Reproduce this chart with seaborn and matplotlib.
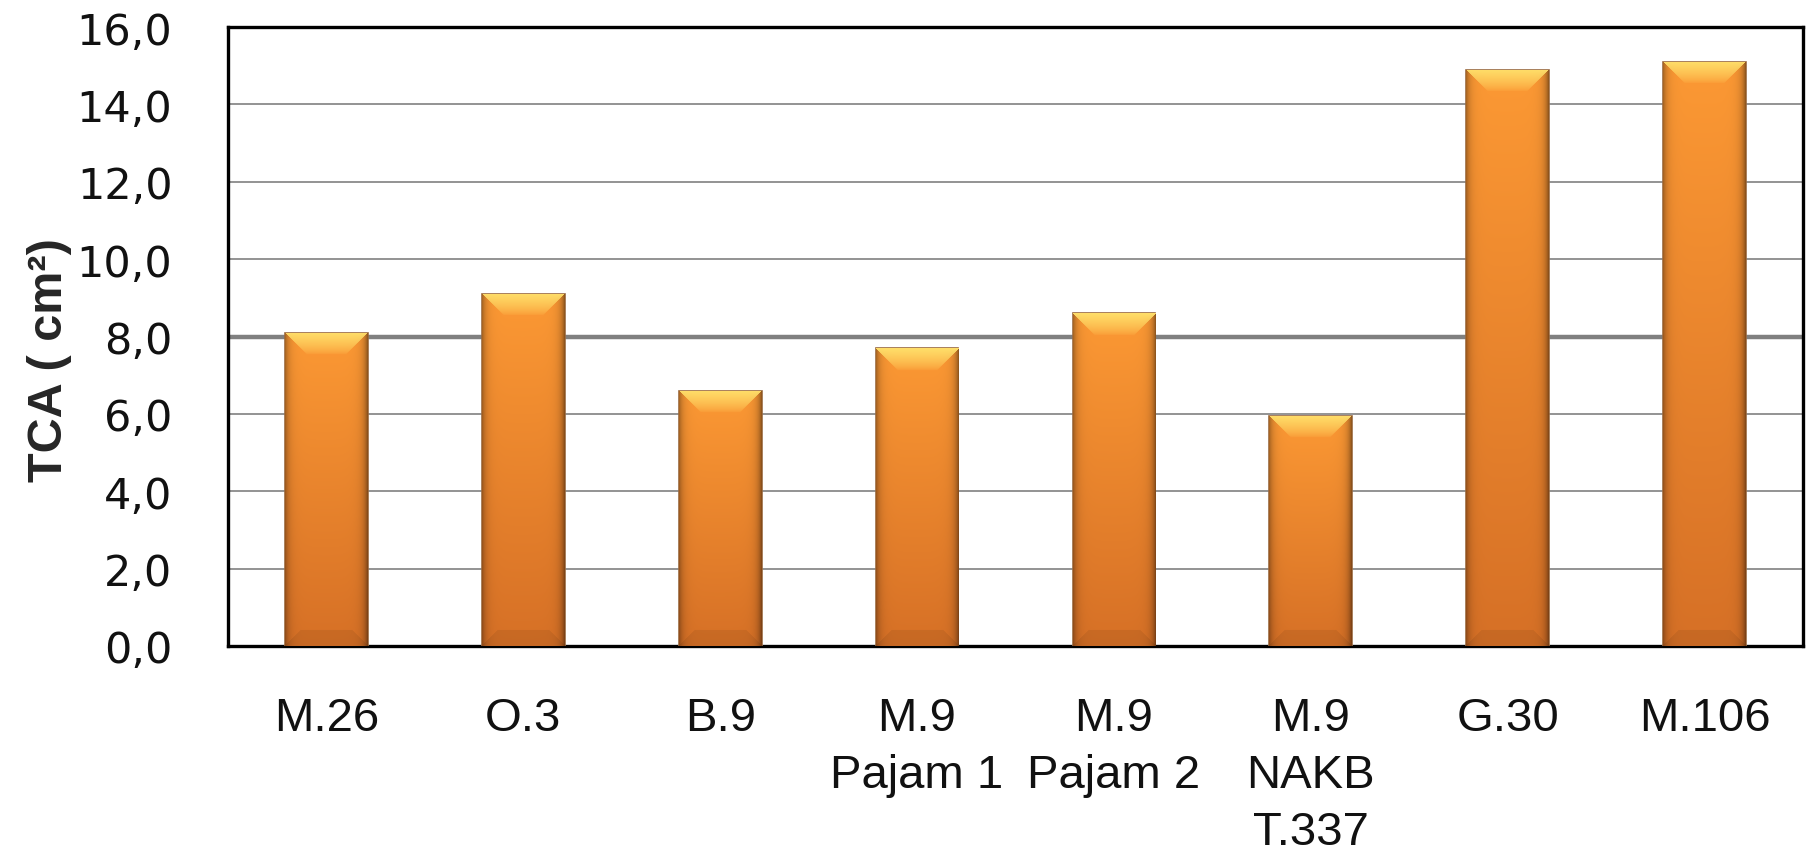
import numpy as np
import pandas as pd
import matplotlib
matplotlib.use("Agg")
import matplotlib.pyplot as plt
import seaborn as sns

# -------------------------------
# Data
# -------------------------------
rootstocks = ["M.26", "O.3", "B.9", "M.9\nPajam 1", "M.9\nPajam 2",
              "M.9\nNAKB\nT.337", "G.30", "M.106"]
tca_values = [8.1, 9.1, 6.6, 7.7, 8.6, 5.95, 14.9, 15.1]
y_ticks = [0, 2, 4, 6, 8, 10, 12, 14, 16]
y_tick_labels = ["0,0", "2,0", "4,0", "6,0", "8,0", "10,0", "12,0", "14,0", "16,0"]

df = pd.DataFrame({"Rootstock": rootstocks, "TCA": tca_values})

# -------------------------------
# Figure
# -------------------------------
sns.set_style("white")
plt.rcParams["font.family"] = ["DejaVu Sans"]

fig = plt.figure(figsize=(18.08, 8.53), dpi=100)
ax = fig.add_axes([228 / 1808, 1 - 647 / 853, (1803 - 228) / 1808, (647 - 28) / 853])

sns.barplot(data=df, x="Rootstock", y="TCA", color="#F7931E", width=0.42,
            edgecolor="#9A6A40", linewidth=1.2, saturation=1, ax=ax, zorder=3)

ax.set_ylim(0, 16)
ax.set_xlim(-0.5, len(rootstocks) - 0.5)
ax.set_yticks(y_ticks)
ax.set_yticklabels(y_tick_labels, fontsize=31, family="DejaVu Sans", color="#111111")
ax.set_xticks(range(len(rootstocks)))
ax.set_xticklabels(rootstocks, fontsize=34, family="Liberation Sans",
                   color="#111111", linespacing=1.38)
ax.tick_params(axis="y", length=0, pad=40)
ax.tick_params(axis="x", length=0, pad=36)
ax.set_xlabel("")
ax.set_ylabel("TCA ( cm²)", fontsize=35, fontweight="bold", family="Liberation Sans")
ax.yaxis.set_label_coords(-0.099, 0.464)

# gridlines, 8,0 line drawn heavier as in the original
for v in y_ticks[1:-1]:
    ax.axhline(v, color="#808080", lw=3.2 if v == 8 else 1.2, zorder=1)

for side in ax.spines.values():
    side.set_visible(True)
    side.set_color("black")
    side.set_linewidth(2.4)

# -------------------------------
# Shaded bar fill (gradient + bevelled top), sized from each bar
# -------------------------------
fig.canvas.draw()
for p in ax.patches:
    bb = p.get_window_extent()
    W, H = max(int(bb.width), 2), max(int(bb.height), 2)
    s = np.linspace(0, 1, W)[None, :]
    d = np.arange(H)[:, None].astype(float)          # depth from top in px
    t = d / H
    top = np.array([252, 153, 52]) / 255
    bot = np.array([214, 112, 38]) / 255
    img = top[None, None, :] * (1 - t[..., None]) + bot[None, None, :] * t[..., None]
    img = np.broadcast_to(img, (H, W, 3)).copy()
    # darker vertical edges
    edge = 0.32 * np.exp(-s / 0.05) + 0.42 * np.exp(-(1 - s) / 0.05)
    img *= (1 - edge)[..., None]
    # yellow bevel at the top
    bev = 22
    cols = np.arange(W)[None, :]
    mask = (d < bev) & (cols >= d) & (cols <= W - 1 - d)
    yel = np.array([255, 222, 105]) / 255
    frac = np.clip(d / bev, 0, 1)
    blend = (1 - frac) ** 0.7
    mix = yel[None, None, :] * blend[..., None] + img * (1 - blend[..., None])
    img = np.where(mask[..., None], mix, img)
    # slightly darker bottom bevel
    db = H - 1 - d
    mask_b = (db < 16) & (cols >= db) & (cols <= W - 1 - db)
    img = np.where(mask_b[..., None], img * 0.93, img)
    x0 = p.get_x()
    im = ax.imshow(np.clip(img, 0, 1), extent=(x0, x0 + p.get_width(), 0, p.get_height()),
                   aspect="auto", zorder=3.5, interpolation="bilinear")
    im.set_clip_path(p)

ax.set_xlim(-0.5, len(rootstocks) - 0.5)
ax.set_ylim(0, 16)

fig.savefig("out.png", dpi=100)
